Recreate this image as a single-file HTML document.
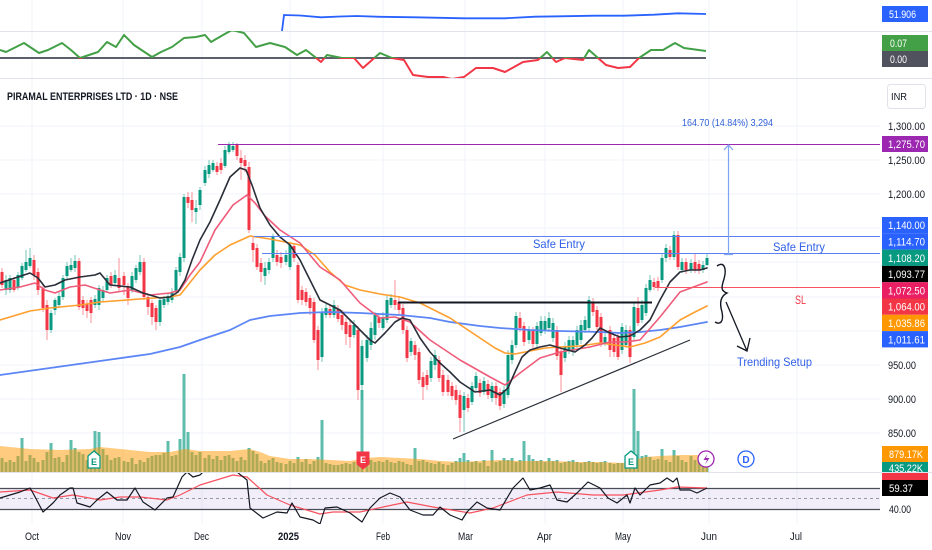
<!DOCTYPE html>
<html><head><meta charset="utf-8"><style>
html,body{margin:0;padding:0;background:#fff;}
svg{display:block;font-family:"Liberation Sans",sans-serif;}
</style></head><body>
<svg width="932" height="550" viewBox="0 0 932 550" xmlns="http://www.w3.org/2000/svg">
<defs>
<clipPath id="c1"><rect x="0" y="0" width="880" height="31"/></clipPath>
<clipPath id="cg"><rect x="0" y="31" width="880" height="27"/></clipPath>
<clipPath id="cr"><rect x="0" y="58" width="880" height="20"/></clipPath>
<clipPath id="cm"><rect x="0" y="79" width="880" height="393"/></clipPath>
<clipPath id="crsi"><rect x="0" y="473" width="880" height="51"/></clipPath>
</defs>
<rect width="932" height="550" fill="#fff"/>
<!-- vertical grid -->
<g stroke="#f0f3fa" stroke-width="1">
<path d="M32 0V524M123 0V524M202 0V524M290 0V524M383 0V524M465 0V524M545 0V524M623 0V524M709 0V524M797 0V524"/>
<path d="M0 126H880M0 160H880M0 194H880M0 228H880M0 262H880M0 297H880M0 331H880M0 365H880M0 399H880M0 433H880"/>
</g>
<!-- pane separators -->
<g stroke="#e0e3eb" stroke-width="1">
<path d="M0 31.5H932M0 78.5H932M0 472.5H932"/>
</g>
<!-- top pane blue line -->
<polyline clip-path="url(#c1)" fill="none" stroke="#2962ff" stroke-width="1.8" points="282,31 284,15 300,15.5 321,17.3 340,16.5 357,16 380,16.8 416,17.3 440,17.8 464,18.3 505,18.3 535,16.7 560,16.3 595,15.7 624,15.7 654,14.7 678,13.3 706,14"/>
<!-- oscillator -->
<path d="M0 58H706" stroke="#5d606b" stroke-width="2"/>
<g fill="none" stroke-width="2" stroke-linejoin="round">
<polyline clip-path="url(#cg)" stroke="#43a047" points="0,50 6,52 24,43 39,53 48,50 62,43 71,50 80,58 89,55 98,52 107,42 116,47 124,35 134,45 152,57 161,52 172,47 184,38 196,37 205,35 211,42 223,35 232,30 244,33 256,47 270,43 285,47 297,55 306,50 315,57 321,62 327,55 342,58 354,58 363,68 372,60 380,53 392,58 404,60 413,75 428,77 443,77 452,79 464,77 476,68 493,68 505,72 523,62 538,60 547,52 556,62 565,58 583,60 589,50 598,58 606,65 618,68 630,67 639,58 651,50 663,50 675,43 684,48 706,51"/>
<polyline clip-path="url(#cr)" stroke="#f23645" points="0,50 6,52 24,43 39,53 48,50 62,43 71,50 80,58 89,55 98,52 107,42 116,47 124,35 134,45 152,57 161,52 172,47 184,38 196,37 205,35 211,42 223,35 232,30 244,33 256,47 270,43 285,47 297,55 306,50 315,57 321,62 327,55 342,58 354,58 363,68 372,60 380,53 392,58 404,60 413,75 428,77 443,77 452,79 464,77 476,68 493,68 505,72 523,62 538,60 547,52 556,62 565,58 583,60 589,50 598,58 606,65 618,68 630,67 639,58 651,50 663,50 675,43 684,48 706,51"/>
</g>
<!-- title -->
<text x="7" y="100" font-size="11" font-weight="bold" fill="#131722" textLength="171" lengthAdjust="spacingAndGlyphs">PIRAMAL ENTERPRISES LTD · 1D · NSE</text>
<rect x="887.5" y="84.5" width="38" height="24" rx="3" fill="#fff" stroke="#e0e3eb"/>
<text x="891" y="100" font-size="10" fill="#131722" textLength="16" lengthAdjust="spacingAndGlyphs">INR</text>

<g clip-path="url(#cm)">
<!-- volume -->
<path fill="none" stroke="#5ebdad" stroke-width="3" d="M2 472V458M6 472V462M10 472V460M14 472V462M18 472V456M22 472V438M26 472V461M30 472V455M34 472V458M38 472V462M43 472V460M47 472V452M51 472V443M55 472V458M59 472V457M63 472V462M67 472V455M71 472V440M75 472V448M79 472V452M83 472V454M87 472V460M91 472V456M95 472V431M99 472V432M103 472V449M107 472V455M111 472V460M115 472V458M119 472V457M124 472V461M128 472V462M132 472V458M136 472V464M140 472V460M144 472V462M148 472V458M152 472V456M156 472V455M160 472V455M164 472V453M168 472V441M172 472V456M176 472V455M180 472V439M184 472V374M188 472V432M192 472V452M196 472V455M200 472V452M205 472V458M209 472V455M213 472V459M217 472V456M221 472V460M225 472V456M229 472V455M233 472V458M237 472V461M241 472V457M245 472V460M249 472V448M253 472V451M257 472V454M261 472V461M265 472V463M269 472V460M273 472V458M277 472V462M281 472V463M286 472V464M290 472V461M294 472V463M298 472V457M302 472V462M306 472V459M310 472V464M314 472V461M318 472V457M322 472V420M326 472V463M330 472V464M334 472V465M338 472V465M342 472V464M346 472V463M350 472V464M354 472V462M358 472V458M362 472V390M367 472V458M371 472V460M375 472V462M379 472V461M383 472V462M387 472V460M391 472V462M395 472V463M399 472V461M403 472V462M407 472V464M411 472V465M415 472V448M419 472V461M423 472V460M427 472V462M431 472V463M435 472V464M439 472V462M443 472V464M448 472V465M452 472V463M456 472V461M460 472V458M464 472V453M468 472V460M472 472V462M476 472V461M480 472V463M484 472V460M488 472V466M492 472V450M496 472V462M500 472V461M504 472V458M508 472V460M512 472V458M516 472V462M520 472V460M524 472V441M529 472V455M533 472V459M537 472V461M541 472V460M545 472V462M549 472V458M553 472V461M557 472V460M561 472V463M565 472V462M569 472V461M573 472V460M577 472V462M581 472V463M585 472V462M589 472V461M593 472V462M597 472V463M601 472V462M605 472V461M610 472V463M614 472V464M618 472V463M622 472V463M626 472V462M630 472V459M634 472V389M638 472V431M642 472V456M646 472V455M650 472V457M654 472V460M658 472V459M662 472V449M666 472V460M670 472V462M674 472V450M678 472V456M682 472V460M686 472V462M691 472V456M695 472V460M699 472V462M703 472V462M707 472V461"/>
<polygon fill="#ff9800" fill-opacity="0.5" points="0,446 30,449 60,450 90,449 100,447 110,448 130,450 150,452 170,452 185,449 200,451 230,451 250,449 260,452 270,456 290,459 310,459 330,460 350,461 365,458 380,457 400,458 420,459 440,461 460,462 480,461 500,460 520,461 550,461 580,462 600,462 625,463 635,460 645,457 660,456 680,455 708,455 708,472 0,472"/>

<!-- candles -->
<path fill="none" stroke="#089981" stroke-opacity="0.55" stroke-width="1" d="M6 275V295M10 275V293M18 272V290M22 263V280M26 250V272M30 248V268M51 310V333M55 298V315M59 292V308M63 275V300M67 262V280M71 258V272M75 255V272M95 295V308M99 285V310M103 286V302M107 275V293M115 270V286M132 272V293M136 265V283M140 255V275M160 297V326M164 296V308M168 293V305M172 288V303M176 267V295M180 253V276M184 194V262M196 200V224M200 187V210M205 166V186M209 160V178M213 160V172M225 146V168M229 142V154M233 142V152M265 262V285M269 258V274M273 234V262M286 250V265M290 242V270M322 308V362M326 304V318M334 300V318M354 320V338M362 340V400M367 335V362M371 322V350M375 312V340M383 312V330M387 296V323M391 294V308M411 338V356M431 357V382M435 350V370M464 392V432M472 382V405M476 372V392M484 377V395M492 382V402M504 386V408M508 350V398M512 340V364M516 312V348M529 326V344M537 322V348M541 316V336M545 316V334M549 312V332M553 318V342M565 342V362M569 336V354M573 336V356M577 326V348M581 320V344M585 316V333M589 296V332M605 330V346M622 323V354M626 325V348M634 303V340M642 300V323M646 284V316M650 275V292M662 254V283M666 244V262M674 231V260M682 258V273M691 259V273M703 261V273M707 254V266"/>
<path fill="none" stroke="#f23645" stroke-opacity="0.55" stroke-width="1" d="M2 268V288M14 277V292M34 255V280M38 268V295M43 285V312M47 300V340M79 258V310M83 296V315M87 300V318M91 297V323M111 272V288M119 258V292M124 272V295M128 283V305M144 258V300M148 293V315M152 300V325M156 305V330M188 192V208M192 192V222M217 162V175M221 158V174M237 143V160M241 150V180M245 155V172M249 162V233M253 237V262M257 244V270M261 258V282M277 250V266M281 252V268M294 243V262M298 262V303M302 286V305M306 288V306M310 295V315M314 298V343M318 326V370M330 305V318M338 305V322M342 310V330M346 318V345M350 320V348M358 326V400M379 313V328M395 280V310M399 296V314M403 304V334M407 326V362M415 341V360M419 348V384M423 372V400M427 370V390M439 356V382M443 370V396M448 375V396M452 382V400M456 385V405M460 390V432M468 394V412M480 379V397M488 380V399M496 382V405M500 388V410M520 312V332M524 322V346M533 327V348M557 326V360M561 348V392M593 298V316M597 306V330M601 313V347M610 326V357M614 334V357M618 333V360M630 326V363M638 297V326M654 278V290M658 277V291M670 246V260M678 231V270M686 258V274M695 253V273M699 260V274"/>
<path fill="none" stroke="#089981" stroke-width="3" d="M6 280V290M10 278V290M18 275V287M22 266V278M26 262V270M30 258V266M51 313V330M55 300V310M59 296V305M63 278V297M67 266V276M71 265V270M75 261V268M95 299V305M99 288V305M103 290V298M107 278V290M115 275V283M132 276V290M136 268V280M140 262V272M160 300V322M164 299V305M168 296V302M172 292V300M176 270V292M180 257V272M184 197V258M196 208V212M200 190V205M205 170V183M209 165V174M213 163V170M225 150V166M229 145V152M233 146V150M265 268V276M269 262V270M273 237V258M286 255V262M290 245V267M322 312V357M326 308V315M334 305V315M354 325V335M362 346V385M367 340V358M371 328V345M375 315V335M383 318V328M387 300V320M391 298V305M411 341V352M431 361V378M435 355V365M464 396V410M472 386V402M476 376V388M484 381V392M492 386V398M504 390V404M508 355V395M512 345V360M516 316V345M529 330V340M537 326V344M541 321V333M545 321V330M549 318V328M553 323V338M565 346V358M569 340V350M573 340V352M577 330V345M581 325V340M585 320V330M589 300V328M605 337V343M622 327V350M626 330V345M634 307V337M642 305V320M646 288V313M650 280V290M662 258V280M666 248V258M674 235V257M682 262V270M691 263V270M703 265V270M707 258V265"/>
<path fill="none" stroke="#f23645" stroke-width="3" d="M2 272V285M14 280V290M34 260V275M38 272V290M43 288V308M47 305V330M79 261V307M83 300V308M87 304V311M91 300V313M111 276V285M119 278V288M124 276V285M128 287V298M144 262V297M148 297V307M152 303V317M156 308V322M188 197V203M192 200V210M217 166V172M221 163V170M237 145V156M241 158V163M245 160V166M249 167V230M253 243V250M257 248V267M261 263V272M277 255V262M281 257V263M294 246V258M298 265V300M302 290V300M306 292V302M310 298V308M314 302V340M318 330V360M330 309V315M338 309V319M342 315V325M346 322V334M350 325V337M358 330V390M379 317V323M395 300V305M399 302V310M403 308V330M407 330V358M415 345V355M419 352V380M423 377V387M427 375V385M439 360V378M443 375V392M448 380V392M452 386V396M456 390V400M460 395V418M468 398V408M480 383V393M488 384V395M496 386V398M500 392V406M520 318V328M524 326V342M533 331V344M557 330V356M561 352V375M593 303V312M597 310V327M601 317V343M610 330V350M614 338V352M618 337V357M630 330V357M638 308V323M654 282V287M658 281V287M670 250V257M678 235V267M686 262V270M695 262V270M699 264V270"/>

<!-- moving averages -->
<g fill="none" stroke-linejoin="round" stroke-linecap="round">
<polyline stroke="#5c85f5" stroke-width="1.8" points="0,375 50,368 100,361 150,354 180,347 200,340 230,330 250,320 270,316 300,313 330,312 360,313 400,315 430,318 450,322 480,326 500,328 530,330 560,331 600,332 620,333 640,332 660,330 680,327 707,322"/>
<polyline stroke="#ff9f2e" stroke-width="1.6" points="0,320 30,311 50,308 80,305 100,302 140,299 170,297 180,295 200,270 215,255 230,245 250,236 270,239 290,243 300,245 315,255 330,272 345,285 360,290 380,294 400,297 420,303 440,313 450,318 465,328 480,338 495,348 505,353 515,354 530,351 545,348 560,347 580,346 600,343 615,345 630,347 645,343 660,337 680,320 695,312 707,306"/>
<polyline stroke="#ef5b7a" stroke-width="1.6" points="0,290 20,287 35,283 45,290 55,293 70,287 85,285 100,290 110,293 130,290 150,295 170,293 180,290 190,275 200,262 215,230 233,205 247,195 255,203 265,216 280,230 300,243 320,267 340,280 360,303 380,318 395,317 410,322 430,340 460,360 490,377 505,385 520,373 540,358 560,352 590,347 610,342 625,342 640,340 660,317 680,292 707,282"/>
<polyline stroke="#2a2e39" stroke-width="1.6" points="0,283 15,278 30,273 38,278 45,287 55,285 65,280 80,277 95,275 100,273 110,285 130,287 143,293 160,298 170,297 178,292 185,280 192,260 200,240 210,222 220,200 230,177 240,168 246,170 252,185 260,208 270,225 280,237 290,245 300,260 310,280 320,300 330,305 340,310 350,320 360,330 370,340 375,343 385,333 395,322 402,318 410,320 420,338 430,352 440,363 450,372 460,382 475,392 490,390 500,395 508,388 515,372 522,357 530,350 540,347 550,345 560,348 575,352 585,345 592,338 600,328 610,333 620,337 630,336 640,330 650,320 660,300 670,282 680,272 690,270 700,270 707,268"/>
</g>

<!-- drawings -->
<path d="M218 144.5H880" stroke="#9c27b0" stroke-width="1"/>
<path d="M254 236.5H880M262 253.5H880" stroke="#5b7ff5" stroke-width="1"/>
<path d="M655 287.5H880" stroke="#f7525f" stroke-width="1"/>
<path d="M398 302.5H652" stroke="#131722" stroke-width="2"/>
<path d="M453 439L690 340" stroke="#2a2e39" stroke-width="1.2"/>
<path d="M728.5 146V254M724 254.5H733M724 150L728.5 145L733 150" stroke="#7ea3f5" stroke-width="1.2" fill="none"/>
<path d="M717 266C724 261 727 268 724 279C721 288 721 291 727 293C721 296 719 302 722 312C724 322 720 325 715 322" stroke="#131722" stroke-width="1.4" fill="none"/>
<path d="M726 302L747 351M737 346L747 351L750 338" stroke="#131722" stroke-width="1.3" fill="none"/>
</g>

<!-- drawing texts -->
<text x="682" y="126" font-size="10" fill="#2f5fd8" textLength="91" lengthAdjust="spacingAndGlyphs">164.70 (14.84%) 3,294</text>
<text x="533" y="248" font-size="12" fill="#2f5fe8" textLength="52" lengthAdjust="spacingAndGlyphs">Safe Entry</text>
<text x="773" y="251" font-size="12" fill="#2f5fe8" textLength="52" lengthAdjust="spacingAndGlyphs">Safe Entry</text>
<text x="795" y="304" font-size="12" fill="#f23645" textLength="11" lengthAdjust="spacingAndGlyphs">SL</text>
<text x="737" y="366" font-size="12" fill="#2f5fe8" textLength="75" lengthAdjust="spacingAndGlyphs">Trending Setup</text>

<!-- event markers -->
<path d="M88 456L94 451L100 456V468H88Z" fill="#fff" stroke="#089981" stroke-width="1.3"/>
<text x="94" y="465" font-size="9" font-weight="bold" fill="#089981" text-anchor="middle">E</text>
<path d="M357 452H369V464L363 469L357 464Z" fill="#f23645" stroke="#f23645" stroke-width="1"/>
<text x="363" y="463" font-size="9" font-weight="bold" fill="#fff" text-anchor="middle">E</text>
<path d="M625 456L631 451L637 456V468H625Z" fill="#fff" stroke="#089981" stroke-width="1.3"/>
<text x="631" y="465" font-size="9" font-weight="bold" fill="#089981" text-anchor="middle">E</text>
<circle cx="706" cy="459" r="8" fill="#fff" stroke="#9c27b0" stroke-width="1.3"/>
<path d="M707.5 454L703.5 460H707L705 464.5L709.5 458H706Z" fill="#9c27b0"/>
<circle cx="746" cy="459" r="8" fill="#fff" stroke="#2962ff" stroke-width="1.3"/>
<text x="746" y="463" font-size="10" font-weight="bold" fill="#2962ff" text-anchor="middle">D</text>

<!-- RSI pane -->
<rect x="0" y="488" width="880" height="21" fill="#7e57c2" fill-opacity="0.1"/>
<path d="M0 488.5H880M0 509.5H880" stroke="#4a4d57" stroke-width="1.2"/>
<path d="M0 498.5H880" stroke="#9598a1" stroke-width="1" stroke-dasharray="3,3"/>
<g clip-path="url(#crsi)" fill="none" stroke-linejoin="round">
<polyline stroke="#f7525f" stroke-width="1.2" points="0,492 30,490 53,498 73,495 100,500 120,497 140,497 167,500 180,495 200,485 233,475 247,477 267,495 290,505 320,514 333,512 360,512 383,507 407,502 433,507 470,513 493,508 527,495 557,492 593,495 623,495 660,490 677,487 707,488"/>
<polyline stroke="#131722" stroke-width="1.2" points="0,498 10,495 20,492 30,488 33,493 43,512 53,503 60,495 70,488 73,488 77,503 90,507 97,500 107,492 117,500 127,500 135,488 143,502 155,510 167,498 173,497 182,477 187,472 193,477 200,475 210,465 225,462 237,472 247,480 250,508 263,518 277,512 287,513 292,503 300,517 313,520 320,524 325,508 337,507 350,513 362,522 370,508 380,498 390,493 400,497 410,510 423,515 433,515 440,507 450,515 462,520 467,512 477,502 487,508 500,510 513,488 523,478 530,490 540,488 550,485 557,500 567,502 577,493 588,482 600,488 608,498 617,503 627,495 630,503 635,488 640,495 650,485 660,483 667,478 673,482 677,478 680,490 690,490 697,493 707,488"/>
</g>

<!-- time axis -->
<g font-size="11" fill="#131722">
<text x="25" y="540" textLength="14" lengthAdjust="spacingAndGlyphs">Oct</text>
<text x="115" y="540" textLength="16" lengthAdjust="spacingAndGlyphs">Nov</text>
<text x="194" y="540" textLength="15" lengthAdjust="spacingAndGlyphs">Dec</text>
<text x="278" y="540" font-weight="bold" textLength="21" lengthAdjust="spacingAndGlyphs">2025</text>
<text x="376" y="540" textLength="14" lengthAdjust="spacingAndGlyphs">Feb</text>
<text x="458" y="540" textLength="15" lengthAdjust="spacingAndGlyphs">Mar</text>
<text x="537" y="540" textLength="15" lengthAdjust="spacingAndGlyphs">Apr</text>
<text x="615" y="540" textLength="16" lengthAdjust="spacingAndGlyphs">May</text>
<text x="701" y="540" textLength="16" lengthAdjust="spacingAndGlyphs">Jun</text>
<text x="790" y="540" textLength="12" lengthAdjust="spacingAndGlyphs">Jul</text>
</g>

<!-- price scale -->
<g font-size="11">
<rect x="882" y="6" width="46" height="16" fill="#2962ff"/>
<text x="889" y="18" fill="#fff" textLength="27" lengthAdjust="spacingAndGlyphs">51.906</text>
<rect x="882" y="35" width="46" height="16" fill="#43a047"/>
<text x="890" y="47" fill="#fff" textLength="17" lengthAdjust="spacingAndGlyphs">0.07</text>
<rect x="882" y="51" width="46" height="16" fill="#50535e"/>
<text x="890" y="63" fill="#fff" textLength="17" lengthAdjust="spacingAndGlyphs">0.00</text>

<text x="888" y="130" fill="#131722" textLength="37" lengthAdjust="spacingAndGlyphs">1,300.00</text>
<rect x="882" y="136" width="46" height="16" fill="#9c27b0"/>
<text x="888" y="148" fill="#fff" textLength="37" lengthAdjust="spacingAndGlyphs">1,275.70</text>
<text x="888" y="164" fill="#131722" textLength="37" lengthAdjust="spacingAndGlyphs">1,250.00</text>
<text x="888" y="198" fill="#131722" textLength="37" lengthAdjust="spacingAndGlyphs">1,200.00</text>

<rect x="882" y="217" width="46" height="16.3" fill="#2962ff"/>
<text x="888" y="229" fill="#fff" textLength="37" lengthAdjust="spacingAndGlyphs">1,140.00</text>
<rect x="882" y="233.3" width="46" height="16.3" fill="#2962ff"/>
<text x="888" y="245.5" fill="#fff" textLength="37" lengthAdjust="spacingAndGlyphs">1,114.70</text>
<rect x="882" y="249.6" width="46" height="16.3" fill="#089981"/>
<text x="888" y="261.8" fill="#fff" textLength="37" lengthAdjust="spacingAndGlyphs">1,108.20</text>
<rect x="882" y="265.9" width="46" height="16.3" fill="#000"/>
<text x="888" y="278.1" fill="#fff" textLength="37" lengthAdjust="spacingAndGlyphs">1,093.77</text>
<rect x="882" y="282.2" width="46" height="16.3" fill="#e91e63"/>
<text x="888" y="294.4" fill="#fff" textLength="37" lengthAdjust="spacingAndGlyphs">1,072.50</text>
<rect x="882" y="298.5" width="46" height="16.3" fill="#f23645"/>
<text x="888" y="310.7" fill="#fff" textLength="37" lengthAdjust="spacingAndGlyphs">1,064.00</text>
<rect x="882" y="314.8" width="46" height="16.3" fill="#ff9800"/>
<text x="888" y="327" fill="#fff" textLength="37" lengthAdjust="spacingAndGlyphs">1,035.86</text>
<rect x="882" y="331.1" width="46" height="16.3" fill="#2962ff"/>
<text x="888" y="343.3" fill="#fff" textLength="37" lengthAdjust="spacingAndGlyphs">1,011.61</text>

<text x="888" y="369" fill="#131722" textLength="28" lengthAdjust="spacingAndGlyphs">950.00</text>
<text x="888" y="403" fill="#131722" textLength="28" lengthAdjust="spacingAndGlyphs">900.00</text>
<text x="888" y="437" fill="#131722" textLength="28" lengthAdjust="spacingAndGlyphs">850.00</text>

<rect x="882" y="446" width="46" height="16" fill="#ff9800"/>
<text x="889" y="458" fill="#fff" textLength="34" lengthAdjust="spacingAndGlyphs">879.17K</text>
<rect x="882" y="462" width="46" height="10" fill="#089981"/>
<text x="889" y="472" fill="#fff" textLength="34" lengthAdjust="spacingAndGlyphs">435.22K</text>
<rect x="882" y="473" width="46" height="8" fill="#f23645"/>
<rect x="882" y="480" width="46" height="16" fill="#000"/>
<text x="889" y="492" fill="#fff" textLength="24" lengthAdjust="spacingAndGlyphs">59.37</text>
<text x="889" y="513" fill="#131722" textLength="22" lengthAdjust="spacingAndGlyphs">40.00</text>
</g>
<path d="M880 472.5H932" stroke="#e0e3eb" stroke-width="1"/>
</svg>
</body></html>
